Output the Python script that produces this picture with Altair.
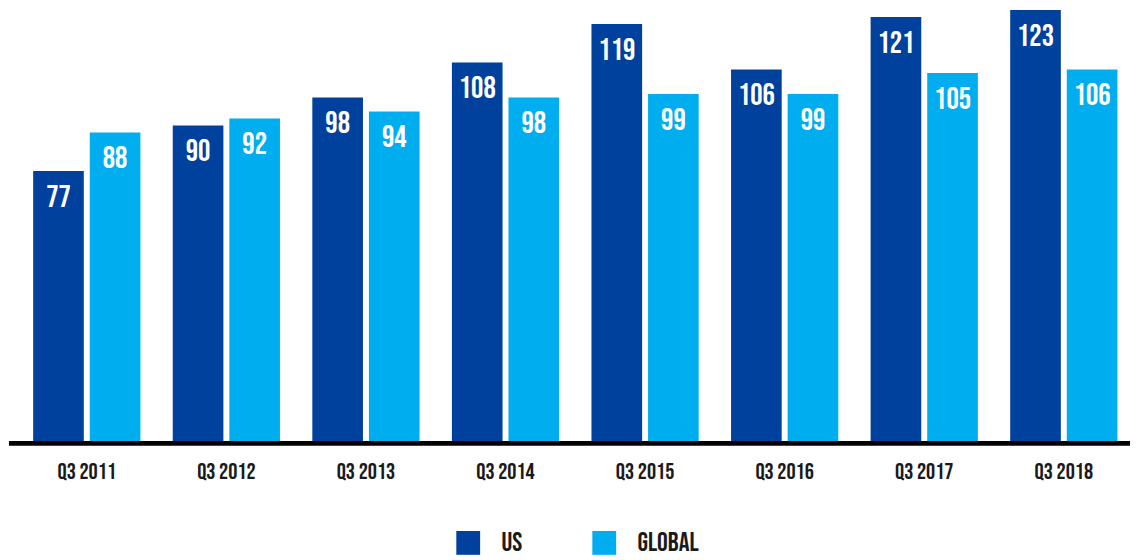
import altair as alt
import pandas as pd

categories = ["Q3 2011", "Q3 2012", "Q3 2013", "Q3 2014", "Q3 2015", "Q3 2016", "Q3 2017", "Q3 2018"]
series = ["US", "GLOBAL"]
us_values = [77, 90, 98, 108, 119, 106, 121, 123]
global_values = [88, 92, 94, 98, 99, 99, 105, 106]
colors = ["#00419e", "#00aeef"]

rows = []
for c, u, g in zip(categories, us_values, global_values):
    rows.append({"quarter": c, "series": "US", "value": u})
    rows.append({"quarter": c, "series": "GLOBAL", "value": g})
df = pd.DataFrame(rows)

FONT = "Bebas Neue, Oswald, Roboto Condensed, sans-serif"

x = alt.X(
    "quarter:N",
    sort=categories,
    scale=alt.Scale(paddingInner=0.2317, paddingOuter=0.1352, align=0.667),
    axis=alt.Axis(title=None, domain=False, ticks=False, labelPadding=20,
                  labelFontSize=23, labelFont=FONT, labelColor="#1a1a1a", labelAngle=0),
)
xo = alt.XOffset("series:N", sort=series, scale=alt.Scale(paddingInner=0.105, paddingOuter=0))
y = alt.Y("value:Q", scale=alt.Scale(domain=[0, 123], nice=False), axis=None)
color = alt.Color(
    "series:N",
    sort=series,
    scale=alt.Scale(domain=series, range=colors),
    legend=alt.Legend(title=None, orient="none", legendX=450, legendY=523,
                      direction="horizontal", symbolType="square", symbolSize=576,
                      symbolStrokeWidth=0, symbolOpacity=1, labelFont=FONT,
                      labelFontSize=27, labelColor="#1a1a1a", labelOffset=20,
                      columnPadding=28, gridAlign="all", padding=0),
)

bars = alt.Chart(df).mark_bar().encode(x=x, xOffset=xo, y=y, color=color)
labels = alt.Chart(df).mark_text(
    baseline="top", dy=12, color="white", fontSize=31, font=FONT
).encode(x=x, xOffset=xo, y=y, text="value:Q")
base_rule = alt.Chart(pd.DataFrame({"a": [0]})).mark_rule(color="black", strokeWidth=5).encode(
    x=alt.value(1), x2=alt.value(1130), y=alt.value(436.5)
)

chart = alt.layer(bars, labels, base_rule).properties(
    width=1130,
    height=434,
    autosize=alt.AutoSizeParams(type="none"),
    padding={"left": 0, "top": 0, "right": 0, "bottom": 118},
).configure_view(stroke=None)

chart.save("out.html", embed_options={"renderer": "svg", "actions": False})
